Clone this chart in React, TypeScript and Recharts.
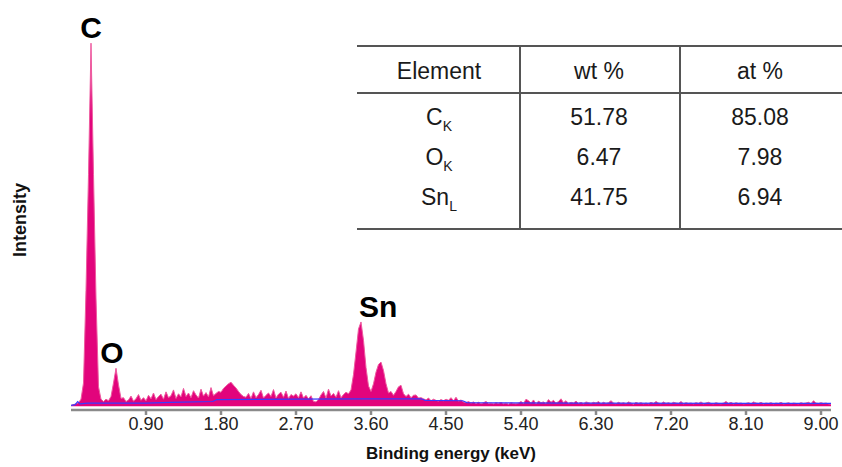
import React from 'react';
import { ComposedChart, Area, Line, XAxis, YAxis, ReferenceDot } from 'recharts';

// EDS spectrum, one value per 0.03 keV channel, starting at 0 keV
const CHANNEL_KEV = 0.03;
const counts: number[] = [
  2, 4, 6, 9, 18, 60, 300, 600, 940, 600,
  280, 50, 18, 12, 18, 14, 25, 60, 98, 55,
  20, 22, 12, 16, 26, 13, 19, 30, 15, 22,
  14, 28, 19, 34, 17, 25, 31, 18, 37, 22,
  27, 42, 20, 32, 24, 46, 25, 34, 22, 40,
  29, 21, 44, 26, 35, 24, 48, 27, 33, 38,
  36, 46, 52, 58, 62, 54, 47, 38, 30, 25,
  23, 33, 20, 37, 22, 30, 41, 21, 28, 34,
  25, 43, 21, 31, 36, 23, 39, 20, 30, 26,
  32, 22, 37, 21, 28, 19, 27, 12, 11, 17,
  29, 38, 21, 44, 26, 33, 23, 40, 22, 30,
  36, 32, 42, 82, 140, 200, 218, 170, 100, 52,
  38, 58, 88, 108, 114, 92, 58, 34, 38, 28,
  38, 50, 54, 32, 25, 31, 22, 28, 29, 21,
  22, 19, 16, 21, 14, 18, 15, 13, 17, 14,
  18, 15, 22, 14, 23, 13, 16, 11, 9, 12,
  8, 11, 7, 10, 6, 9, 12, 7, 8, 6,
  9, 7, 10, 6, 8, 5, 9, 7, 6, 8,
  12, 7, 18, 14, 8, 16, 6, 13, 9, 11,
  7, 17, 10, 15, 8, 12, 19, 9, 14, 7,
  10, 8, 13, 7, 10, 6, 11, 9, 7, 10,
  8, 12, 6, 10, 7, 9, 14, 8, 6, 10,
  7, 9, 6, 11, 8, 5, 10, 7, 9, 6,
  8, 6, 10, 7, 12, 8, 6, 11, 7, 9,
  6, 10, 8, 7, 12, 6, 9, 7, 8, 6,
  9, 7, 11, 6, 8, 10, 7, 6, 9, 7,
  6, 8, 12, 7, 10, 6, 9, 7, 8, 6,
  7, 9, 6, 11, 8, 7, 10, 6, 8, 7,
  9, 6, 8, 7, 10, 6, 7, 9, 6, 8,
  7, 6, 9, 7, 8, 10, 6, 14, 8, 7,
  9, 7, 8, 6, 5,
];

// background fit (blue line)
const bgKeV = [0, 0.05, 0.08, 0.11, 0.2, 0.9, 1.2, 1.7, 1.75, 2.7, 3.5, 4.2, 4.25, 4.7, 4.75, 6.0, 9.12];
const bgCounts = [2, 4, 12, 6, 8, 8, 10, 12, 17, 18, 19, 19, 15, 14, 9, 8, 7];

const xTicks = [0.9, 1.8, 2.7, 3.6, 4.5, 5.4, 6.3, 7.2, 8.1, 9.0];

const peakLabels = ['C', 'O', 'Sn'];
const peakLabelKeV = [0.24, 0.49, 3.685];
const peakLabelCounts = [940, 98, 218];

const tableHeader = ['Element', 'wt %', 'at %'];
const tableElements = ['C', 'O', 'Sn'];
const tableLines = ['K', 'K', 'L'];
const tableWt = ['51.78', '6.47', '41.75'];
const tableAt = ['85.08', '7.98', '6.94'];

const spectrum = counts.map((c, i) => ({ e: +(i * CHANNEL_KEV).toFixed(2), counts: c }));
const background = bgKeV.map((e, i) => ({ e, bg: bgCounts[i] }));

const FONT = '"Liberation Sans", Arial, Helvetica, sans-serif';
const PINK = '#e2047c';
const LINE = '#555';

const colCenters = [439, 599, 760];
const rowCenters = [117, 157, 197];

const cellStyle = (cx: number, cy: number): React.CSSProperties => ({
  position: 'absolute',
  left: cx - 80,
  width: 160,
  top: cy - 13,
  textAlign: 'center',
  fontSize: 23,
  color: '#1a1a1a',
  lineHeight: '26px',
});

const App: React.FC = () => {
  return (
    <div style={{ position: 'relative', width: 842, height: 467, background: '#fff', fontFamily: FONT }}>
      <style>{'body{margin:0}'}</style>
      <ComposedChart width={842} height={467} margin={{ top: 20, right: 11, left: 71, bottom: 5 }}>
        <XAxis
          dataKey="e"
          type="number"
          domain={[0, 9.12]}
          ticks={xTicks}
          allowDataOverflow
          tickFormatter={(v: number) => v.toFixed(2)}
          stroke="#8a8a8a"
          strokeWidth={2.5}
          tickSize={5}
          height={52}
          tick={{ fill: '#222', fontSize: 18, fontFamily: FONT }}
          label={{ value: 'Binding energy (keV)', position: 'insideBottom', offset: 3, fill: '#111', fontSize: 17, fontWeight: 'bold', fontFamily: FONT }}
        />
        <YAxis hide domain={[-10, 1000]} />
        <Area
          data={spectrum}
          dataKey="counts"
          type="linear"
          fill={PINK}
          fillOpacity={1}
          stroke="#ee5a9f"
          strokeWidth={1}
          baseValue={0}
          isAnimationActive={false}
        />
        <Line
          data={background}
          dataKey="bg"
          type="linear"
          stroke="#3a3aff"
          strokeWidth={1.2}
          dot={false}
          isAnimationActive={false}
        />
        {peakLabels.map((name, i) => (
          <ReferenceDot
            key={name}
            x={peakLabelKeV[i]}
            y={peakLabelCounts[i]}
            r={0}
            ifOverflow="visible"
            label={{ value: name, position: 'top', offset: 5, fontSize: 30, fontWeight: 'bold', fill: '#000', fontFamily: FONT }}
          />
        ))}
      </ComposedChart>

      <div style={{ position: 'absolute', left: 20, top: 220, transform: 'translate(-50%, -50%) rotate(-90deg)', fontWeight: 'bold', fontSize: 18, color: '#111', whiteSpace: 'nowrap', lineHeight: '20px' }}>
        Intensity
      </div>

      {/* composition table */}
      <div style={{ position: 'absolute', left: 357, top: 45, width: 485, height: 2, background: LINE }} />
      <div style={{ position: 'absolute', left: 357, top: 92, width: 485, height: 2, background: LINE }} />
      <div style={{ position: 'absolute', left: 357, top: 228, width: 485, height: 2, background: LINE }} />
      <div style={{ position: 'absolute', left: 519, top: 45, width: 2, height: 185, background: LINE }} />
      <div style={{ position: 'absolute', left: 679, top: 45, width: 2, height: 185, background: LINE }} />
      {tableHeader.map((h, i) => (
        <div key={h} style={cellStyle(colCenters[i], 71)}>
          {h}
        </div>
      ))}
      {tableElements.map((el, r) => (
        <React.Fragment key={el}>
          <div style={cellStyle(colCenters[0], rowCenters[r])}>
            {el}
            <sub style={{ fontSize: 14, verticalAlign: -6, lineHeight: 0 }}>{tableLines[r]}</sub>
          </div>
          <div style={cellStyle(colCenters[1], rowCenters[r])}>{tableWt[r]}</div>
          <div style={cellStyle(colCenters[2], rowCenters[r])}>{tableAt[r]}</div>
        </React.Fragment>
      ))}
    </div>
  );
};

export default App;
